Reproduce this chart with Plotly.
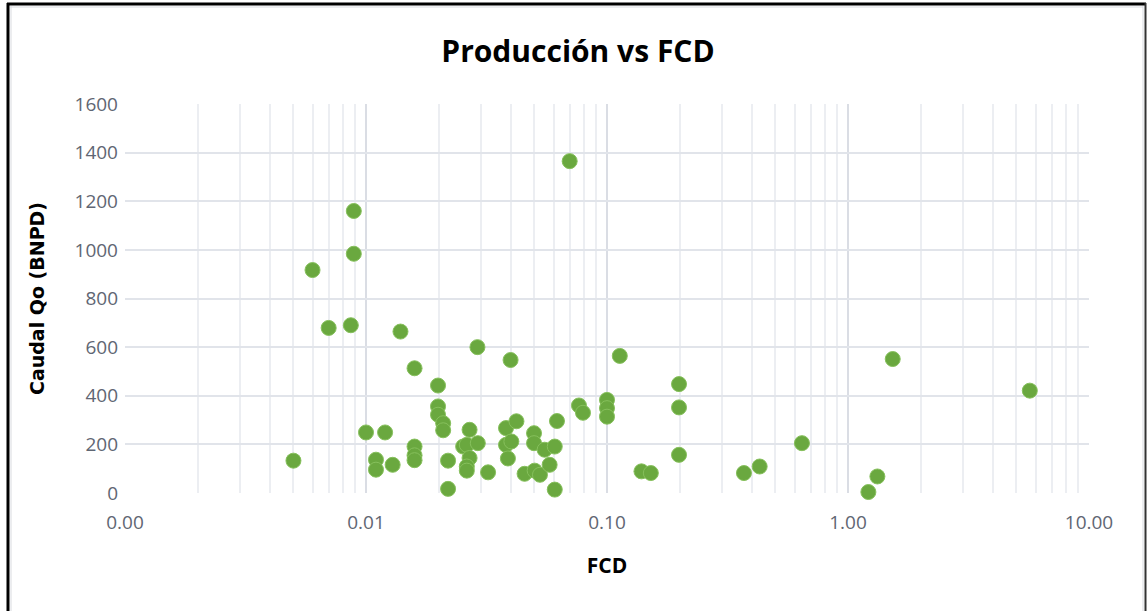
import plotly.graph_objects as go

# ---- data ----
fcd = [0.005, 0.0060, 0.0070, 0.00865, 0.0089, 0.0089, 0.0100, 0.0110, 0.0110, 0.0120,
       0.0129, 0.0139, 0.0159, 0.0159, 0.0159, 0.0159, 0.0199, 0.0199, 0.0199, 0.0209,
       0.0209, 0.0219, 0.0219, 0.0253, 0.0262, 0.0269, 0.0269, 0.0262, 0.0262, 0.0291,
       0.0290, 0.0321, 0.0381, 0.0381, 0.0401, 0.0388, 0.0398, 0.0421, 0.0455, 0.0498,
       0.0498, 0.0501, 0.0527, 0.0551, 0.0578, 0.0607, 0.0607, 0.0620, 0.0700, 0.0765,
       0.0795, 0.100, 0.100, 0.100, 0.113, 0.139, 0.152, 0.199, 0.199, 0.199,
       0.370, 0.430, 0.644, 1.215, 1.324, 1.533, 5.68]
caudal = [133, 917, 679, 690, 1160, 984, 249, 137, 96, 249,
          116, 664, 513, 191, 155, 135, 442, 356, 322, 287,
          258, 133, 17, 191, 198, 260, 144, 109, 92, 205,
          600, 85, 267, 198, 212, 142, 547, 295, 79, 246,
          205, 92, 75, 178, 116, 191, 14, 296, 1365, 360,
          330, 383, 349, 314, 564, 89, 82, 448, 352, 157,
          82, 109, 205, 4, 68, 551, 421]

x_tickvals = [0.001, 0.01, 0.1, 1, 10]
x_ticktext = ["0.00", "0.01", "0.10", "1.00", "10.00"]
y_tickvals = [0, 200, 400, 600, 800, 1000, 1200, 1400, 1600]

title_text = "Producción vs FCD"
x_title = "FCD"
y_title = "Caudal Qo (BNPD)"

W, H = 1147, 611
L, R, T, B = 125, 58, 104, 118

fig = go.Figure()
fig.add_trace(go.Scatter(
    x=fcd, y=caudal, mode="markers",
    marker=dict(size=15, color="#6aa83f", line=dict(color="#86c05c", width=1)),
    cliponaxis=False, showlegend=False,
))

tick_font = dict(family="Open Sans, Liberation Sans, sans-serif", size=19, color="#5f6673")
grid_major = "#dadde4"
grid_minor = "#eceef2"

fig.update_xaxes(
    type="log", range=[-3, 1],
    tickvals=x_tickvals, ticktext=x_ticktext,
    tickfont=tick_font, ticks="", ticklen=0, ticklabelstandoff=16,
    showgrid=True, gridcolor=grid_major, gridwidth=2,
    minor=dict(dtick="D1", showgrid=True, gridcolor=grid_minor, gridwidth=2, ticks=""),
    showline=False, zeroline=False,
    title=dict(text="<b>" + x_title + "</b>", standoff=24,
               font=dict(family="Open Sans, sans-serif", size=21, color="#000000")),
)
fig.update_yaxes(
    range=[0, 1600], tickvals=y_tickvals,
    tickfont=tick_font, ticks="", ticklen=0, ticklabelstandoff=6,
    showgrid=True, gridcolor="#e1e4ea", gridwidth=2,
    zeroline=False, showline=False,
    title=dict(text="<b>" + y_title + "</b>", standoff=24,
               font=dict(family="DejaVu Sans, Verdana, sans-serif", size=19, color="#000000")),
)

pw = W - L - R
ph = H - T - B
def px(x):
    return (x - L) / pw
def py(y):
    return (H - B - y) / ph

border = dict(color="#000000", width=3)
fig.add_shape(type="line", xref="paper", yref="paper", x0=px(8), x1=px(8), y0=py(3), y1=py(620), line=border)
fig.add_shape(type="line", xref="paper", yref="paper", x0=px(7), x1=px(1146), y0=py(4), y1=py(4), line=border)
fig.add_shape(type="line", xref="paper", yref="paper", x0=px(1145.5), x1=px(1145.5), y0=py(3), y1=py(620),
              line=dict(color="#333333", width=2))
inner = dict(color="#d9dbe0", width=1)
fig.add_shape(type="line", xref="paper", yref="paper", x0=px(11), x1=px(11), y0=py(6), y1=py(620), line=inner)
fig.add_shape(type="line", xref="paper", yref="paper", x0=px(10), x1=px(1143), y0=py(7), y1=py(7), line=inner)
fig.add_shape(type="line", xref="paper", yref="paper", x0=px(1143), x1=px(1143), y0=py(6), y1=py(620), line=inner)

fig.update_layout(
    width=W, height=H,
    margin=dict(l=L, r=R, t=T, b=B),
    paper_bgcolor="white", plot_bgcolor="white",
    title=dict(text="<b>" + title_text + "</b>", x=578 / W, xanchor="center",
               y=1 - 51 / H, yanchor="middle",
               font=dict(family="Open Sans, sans-serif", size=30, color="#000000")),
)

fig.write_html("out.html", config={"displayModeBar": False},
               post_script="document.body.style.margin='0';document.body.style.overflow='hidden';")
